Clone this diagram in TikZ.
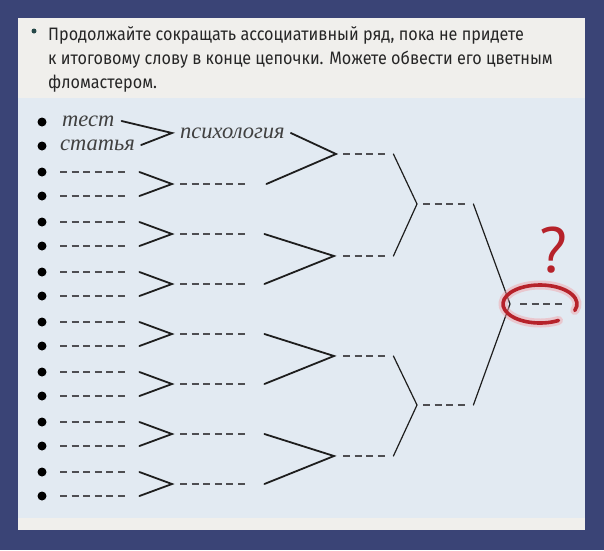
\documentclass[tikz,border=0pt]{standalone}
\usepackage{fontspec}
\setmainfont{PT Sans}
\newfontfamily\headfont[FakeStretch=0.9]{Fira Sans}
\newfontfamily\handfont{Liberation Serif}
\definecolor{navy}{RGB}{58,68,118}
\definecolor{paper}{RGB}{240,239,236}
\definecolor{sheet}{RGB}{226,234,242}
\definecolor{ink}{RGB}{30,30,30}
\definecolor{pencil}{RGB}{78,78,82}
\definecolor{marker}{RGB}{182,34,42}
\definecolor{glow}{RGB}{242,158,164}
\definecolor{teal}{RGB}{38,72,72}
\tikzset{
	dotstyle/.style={circle,fill=black,inner sep=0pt,minimum size=9pt},
	dashstyle/.style={draw=pencil,line width=2.2pt,dash pattern=on 7pt off 4.6pt},
	slotstyle/.style={anchor=west,inner sep=0pt,minimum height=0pt,minimum width=#1,
		append after command={(\tikzlastnode.west) edge[dashstyle] (\tikzlastnode.east)}},
	wordstyle/.style={anchor=west,inner sep=0pt,text=ink!85,
		font=\handfont\itshape\fontsize{22.5}{22.5}\selectfont},
	headstyle/.style={anchor=base west,inner sep=0pt,text=black!85,
		font=\headfont\fontsize{18}{18}\selectfont},
	armstyle/.style={draw=ink,line width=1.8pt,line cap=round},
	thinarm/.style={draw=ink,line width=1.2pt,line cap=round},
	ringstyle/.style={draw=marker,line width=3.6pt,line cap=round}
}
\begin{document}
\begin{tikzpicture}[x=1pt,y=-1pt]
	\useasboundingbox (0,0) rectangle (604,550);
	\fill[navy] (0,0) rectangle (604,550);
	\fill[paper] (18,18) rectangle (585,530);
	\fill[sheet] (18,98) rectangle (585,518);
	% task text
	\node[circle,fill=teal,inner sep=0pt,minimum size=5pt] (hdot) at (34,31) {};
	\node[headstyle] (head1) at (48,40) {Продолжайте сокращать ассоциативный ряд, пока не придете};
	\node[headstyle] (head2) at (48,64) {к итоговому слову в конце цепочки. Можете обвести его цветным};
	\node[headstyle] (head3) at (48,88) {фломастером.};
	% list bullets
	\node[dotstyle] (b1) at (42,122) {};
	\node[dotstyle] (b2) at (42,146) {};
	\node[dotstyle] (b3) at (42,172) {};
	\node[dotstyle] (b4) at (42,196) {};
	\node[dotstyle] (b5) at (42,222) {};
	\node[dotstyle] (b6) at (42,246) {};
	\node[dotstyle] (b7) at (42,272) {};
	\node[dotstyle] (b8) at (42,296) {};
	\node[dotstyle] (b9) at (42,322) {};
	\node[dotstyle] (b10) at (42,346) {};
	\node[dotstyle] (b11) at (42,372) {};
	\node[dotstyle] (b12) at (42,396) {};
	\node[dotstyle] (b13) at (42,422) {};
	\node[dotstyle] (b14) at (42,446) {};
	\node[dotstyle] (b15) at (42,472) {};
	\node[dotstyle] (b16) at (42,496) {};
	% first column
	\node[wordstyle] (l1) at (62,121) {тест};
	\node[wordstyle] (l2) at (60,145) {статья};
	\node[slotstyle=69pt] (l3) at (60,172) {};
	\node[slotstyle=69pt] (l4) at (60,196) {};
	\node[slotstyle=69pt] (l5) at (60,222) {};
	\node[slotstyle=69pt] (l6) at (60,246) {};
	\node[slotstyle=69pt] (l7) at (60,272) {};
	\node[slotstyle=69pt] (l8) at (60,296) {};
	\node[slotstyle=69pt] (l9) at (60,322) {};
	\node[slotstyle=69pt] (l10) at (60,346) {};
	\node[slotstyle=69pt] (l11) at (60,372) {};
	\node[slotstyle=69pt] (l12) at (60,396) {};
	\node[slotstyle=69pt] (l13) at (60,422) {};
	\node[slotstyle=69pt] (l14) at (60,446) {};
	\node[slotstyle=69pt] (l15) at (60,472) {};
	\node[slotstyle=69pt] (l16) at (60,496) {};
	% second column
	\node[wordstyle] (m1) at (180,133) {психология};
	\node[slotstyle=68pt] (m2) at (180,184) {};
	\node[slotstyle=68pt] (m3) at (180,234) {};
	\node[slotstyle=68pt] (m4) at (180,284) {};
	\node[slotstyle=68pt] (m5) at (180,334) {};
	\node[slotstyle=68pt] (m6) at (180,384) {};
	\node[slotstyle=68pt] (m7) at (180,434) {};
	\node[slotstyle=68pt] (m8) at (180,484) {};
	% third to fifth column
	\node[slotstyle=44pt] (n1) at (343,154) {};
	\node[slotstyle=44pt] (n2) at (343,256) {};
	\node[slotstyle=44pt] (n3) at (343,356) {};
	\node[slotstyle=44pt] (n4) at (343,456) {};
	\node[slotstyle=44pt] (p1) at (423,204) {};
	\node[slotstyle=44pt] (p2) at (423,405) {};
	\node[slotstyle=44pt] (q) at (520,304) {};
	% chevrons
	\draw[armstyle] ([xshift=7pt]l1.east) -- ([xshift=-8pt]m1.west) -- ([xshift=6pt]l2.east);
	\draw[armstyle] ([xshift=10pt]l3.east) -- ([xshift=-8pt]m2.west) -- ([xshift=10pt]l4.east);
	\draw[armstyle] ([xshift=10pt]l5.east) -- ([xshift=-8pt]m3.west) -- ([xshift=10pt]l6.east);
	\draw[armstyle] ([xshift=10pt]l7.east) -- ([xshift=-8pt]m4.west) -- ([xshift=10pt]l8.east);
	\draw[armstyle] ([xshift=10pt]l9.east) -- ([xshift=-8pt]m5.west) -- ([xshift=10pt]l10.east);
	\draw[armstyle] ([xshift=10pt]l11.east) -- ([xshift=-8pt]m6.west) -- ([xshift=10pt]l12.east);
	\draw[armstyle] ([xshift=10pt]l13.east) -- ([xshift=-8pt]m7.west) -- ([xshift=10pt]l14.east);
	\draw[armstyle] ([xshift=10pt]l15.east) -- ([xshift=-8pt]m8.west) -- ([xshift=10pt]l16.east);
	\draw[armstyle] ([xshift=6pt]m1.east) -- ([xshift=-7pt]n1.west) -- ([xshift=18pt]m2.east);
	\draw[armstyle] ([xshift=16pt]m3.east) -- ([xshift=-9pt]n2.west) -- ([xshift=16pt]m4.east);
	\draw[armstyle] ([xshift=16pt]m5.east) -- ([xshift=-9pt]n3.west) -- ([xshift=16pt]m6.east);
	\draw[armstyle] ([xshift=16pt]m7.east) -- ([xshift=-9pt]n4.west) -- ([xshift=16pt]m8.east);
	\draw[thinarm] ([xshift=6pt]n1.east) -- ([xshift=-6pt]p1.west) -- ([xshift=6pt]n2.east);
	\draw[thinarm] ([xshift=6pt]n3.east) -- ([xshift=-6pt]p2.west) -- ([xshift=6pt]n4.east);
	\draw[thinarm] ([xshift=6pt]p1.east) -- ([xshift=-10pt]q.west) -- ([xshift=6pt]p2.east);
	% red marker
	\coordinate (ringc) at (540,304);
	\draw[glow,line width=9pt,opacity=0.45,line cap=round] ([shift={(-60:37pt and 19pt)}]ringc)
		arc[start angle=-60,end angle=-380,x radius=37pt,y radius=19pt];
	\draw[ringstyle] ([shift={(-60:37pt and 19pt)}]ringc)
		arc[start angle=-60,end angle=-380,x radius=37pt,y radius=19pt];
	\node[text=marker,font=\fontsize{64}{64}\selectfont,inner sep=0pt] (ask) at (553,250) {?};
\end{tikzpicture}
\end{document}
